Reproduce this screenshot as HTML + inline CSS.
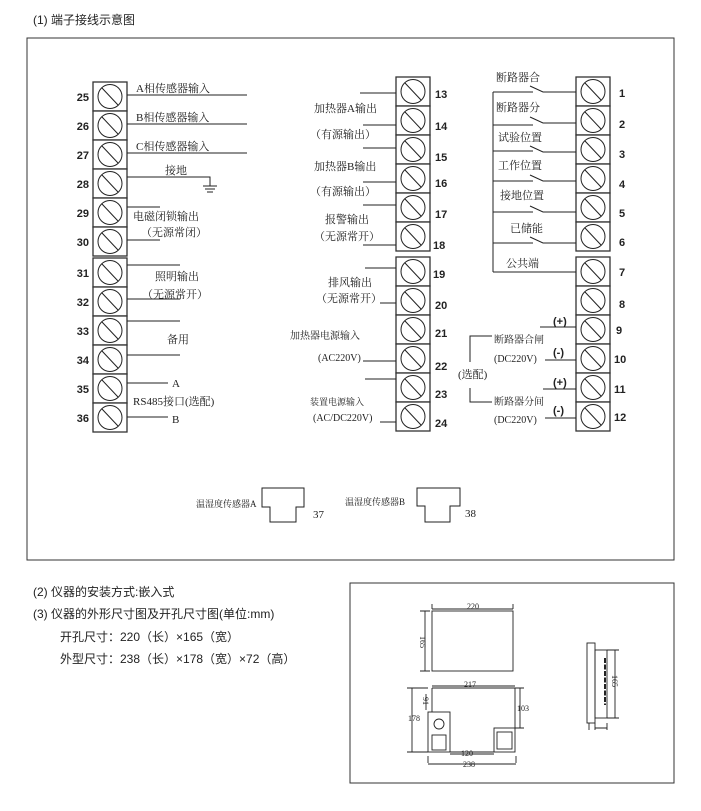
<!DOCTYPE html>
<html><head><meta charset="utf-8"><style>
body{margin:0;background:#fff;width:701px;height:811px;overflow:hidden}
svg{display:block}
text{font-family:"Liberation Serif","Noto Serif CJK SC",serif;fill:#222}
.s{font-family:"Liberation Sans","Noto Sans CJK SC",sans-serif}
.n{font-family:"Liberation Sans",sans-serif;font-weight:bold;font-size:11px}
</style></head><body>
<svg width="701" height="811" viewBox="0 0 701 811" xmlns="http://www.w3.org/2000/svg">
<defs>
<g id="t"><rect x="0" y="0" width="34" height="29" fill="#fff" stroke="#333" stroke-width="1.3"/><circle cx="17" cy="14.5" r="12" fill="none" stroke="#222" stroke-width="1"/><line x1="9" y1="6" x2="25" y2="23" stroke="#222" stroke-width="1"/></g>
</defs>
<text x="33" y="24" font-size="12" class="s">(1) 端子接线示意图</text>
<rect x="27" y="38" width="647" height="522" fill="none" stroke="#333" stroke-width="1"/>

<g>
<use href="#t" x="93" y="82"/><use href="#t" x="93" y="111"/><use href="#t" x="93" y="140"/><use href="#t" x="93" y="169"/><use href="#t" x="93" y="198"/><use href="#t" x="93" y="227"/>
<use href="#t" x="93" y="258"/><use href="#t" x="93" y="287"/><use href="#t" x="93" y="316"/><use href="#t" x="93" y="345"/><use href="#t" x="93" y="374"/><use href="#t" x="93" y="403"/>
</g>
<g text-anchor="end">
<text x="89" y="101" class="n">25</text><text x="89" y="130" class="n">26</text><text x="89" y="159" class="n">27</text><text x="89" y="188" class="n">28</text><text x="89" y="217" class="n">29</text><text x="89" y="246" class="n">30</text>
<text x="89" y="277" class="n">31</text><text x="89" y="306" class="n">32</text><text x="89" y="335" class="n">33</text><text x="89" y="364" class="n">34</text><text x="89" y="393" class="n">35</text><text x="89" y="422" class="n">36</text>
</g>
<g stroke="#222" stroke-width="1" fill="none">
<path d="M127 95H247M127 124H247M127 153H247"/>
<path d="M127 177H210V186M203 186H217M205 189H215M207 192H213"/>
<path d="M127 207H160M127 240H160M127 265H180M127 299H180M127 321H180M127 355H180M127 383H168M127 417H168"/>
</g>
<g font-size="11">
<text x="136" y="92">A相传感器输入</text>
<text x="136" y="121">B相传感器输入</text>
<text x="136" y="150">C相传感器输入</text>
<text x="165" y="174">接地</text>
<text x="133" y="220">电磁闭锁输出</text>
<text x="141" y="236">（无源常闭）</text>
<text x="155" y="280">照明输出</text>
<text x="142" y="298">（无源常开）</text>
<text x="167" y="343">备用</text>
<text x="172" y="387">A</text>
<text x="133" y="405">RS485接口(选配)</text>
<text x="172" y="423">B</text>
</g>

<g>
<use href="#t" x="396" y="77"/><use href="#t" x="396" y="106"/><use href="#t" x="396" y="135"/><use href="#t" x="396" y="164"/><use href="#t" x="396" y="193"/><use href="#t" x="396" y="222"/>
<use href="#t" x="396" y="257"/><use href="#t" x="396" y="286"/><use href="#t" x="396" y="315"/><use href="#t" x="396" y="344"/><use href="#t" x="396" y="373"/><use href="#t" x="396" y="402"/>
</g>
<g>
<text x="435" y="98" class="n">13</text><text x="435" y="130" class="n">14</text><text x="435" y="161" class="n">15</text><text x="435" y="187" class="n">16</text><text x="435" y="218" class="n">17</text><text x="433" y="249" class="n">18</text>
<text x="433" y="278" class="n">19</text><text x="435" y="309" class="n">20</text><text x="435" y="337" class="n">21</text><text x="435" y="370" class="n">22</text><text x="435" y="398" class="n">23</text><text x="435" y="427" class="n">24</text>
</g>
<g stroke="#222" stroke-width="1" fill="none">
<path d="M360 93H396M363 125H396M363 148H396M363 182H396M363 205H396M363 245H396M365 268H396M380 303H396M363 361H396M365 379H396M380 422H396"/>
</g>
<g font-size="11">
<text x="314" y="112">加热器A输出</text>
<text x="310" y="138">（有源输出）</text>
<text x="314" y="170">加热器B输出</text>
<text x="310" y="195">（有源输出）</text>
<text x="325" y="223">报警输出</text>
<text x="314" y="240">（无源常开）</text>
<text x="328" y="286">排风输出</text>
<text x="316" y="302">（无源常开）</text>
<text x="290" y="339" font-size="10">加热器电源输入</text>
<text x="318" y="361" font-size="10">(AC220V)</text>
<text x="310" y="405" font-size="9">装置电源输入</text>
<text x="313" y="421" font-size="10">(AC/DC220V)</text>
</g>

<g>
<use href="#t" x="576" y="77"/><use href="#t" x="576" y="106"/><use href="#t" x="576" y="135"/><use href="#t" x="576" y="164"/><use href="#t" x="576" y="193"/><use href="#t" x="576" y="222"/>
<use href="#t" x="576" y="257"/><use href="#t" x="576" y="286"/><use href="#t" x="576" y="315"/><use href="#t" x="576" y="344"/><use href="#t" x="576" y="373"/><use href="#t" x="576" y="402"/>
</g>
<g>
<text x="619" y="97" class="n">1</text><text x="619" y="128" class="n">2</text><text x="619" y="158" class="n">3</text><text x="619" y="188" class="n">4</text><text x="619" y="217" class="n">5</text><text x="619" y="246" class="n">6</text>
<text x="619" y="276" class="n">7</text><text x="619" y="308" class="n">8</text><text x="616" y="334" class="n">9</text><text x="614" y="363" class="n">10</text><text x="614" y="393" class="n">11</text><text x="614" y="421" class="n">12</text>
</g>
<g stroke="#222" stroke-width="1" fill="none">
<path d="M493 92V272"/>
<path d="M493 92H533M530 86L543 92H576"/>
<path d="M493 125H533M530 117L543 123H576"/>
<path d="M493 151H533M530 146L543 152H576"/>
<path d="M493 181H533M530 175L543 181H576"/>
<path d="M493 212H533M530 206L543 212H576"/>
<path d="M493 243H533M530 237L543 243H576"/>
<path d="M493 272H576"/>
<path d="M540 327H576M545 360H576M543 389H576M545 418H576"/>
<path d="M492 336H470V362M470 388V402H492"/>
</g>
<g font-size="11">
<text x="496" y="81">断路器合</text>
<text x="496" y="111">断路器分</text>
<text x="498" y="141">试验位置</text>
<text x="498" y="169">工作位置</text>
<text x="500" y="199">接地位置</text>
<text x="510" y="232">已储能</text>
<text x="506" y="267">公共端</text>
<text x="553" y="325" class="n">(+)</text>
<text x="553" y="356" class="n">(-)</text>
<text x="553" y="386" class="n">(+)</text>
<text x="553" y="414" class="n">(-)</text>
<text x="494" y="343" font-size="10">断路器合闸</text>
<text x="494" y="362" font-size="10">(DC220V)</text>
<text x="458" y="378">(选配)</text>
<text x="494" y="405" font-size="10">断路器分间</text>
<text x="494" y="423" font-size="10">(DC220V)</text>
</g>

<g stroke="#222" stroke-width="1" fill="none">
<path d="M262 488H304V507H296V522H270V507H262Z"/>
<path d="M417 488H460V506H450V522H425V506H417Z"/>
</g>
<text x="196" y="507" font-size="9">温湿度传感器A</text>
<text x="313" y="518" font-size="11">37</text>
<text x="345" y="505" font-size="9">温湿度传感器B</text>
<text x="465" y="517" font-size="11">38</text>

<g font-size="12">
<text x="33" y="596" class="s">(2) 仪器的安装方式:嵌入式</text>
<text x="33" y="618" class="s">(3) 仪器的外形尺寸图及开孔尺寸图(单位:mm)</text>
<text x="60" y="641" class="s">开孔尺寸：220（长）×165（宽）</text>
<text x="60" y="663" class="s">外型尺寸：238（长）×178（宽）×72（高）</text>
</g>

<rect x="350" y="583" width="324" height="200" fill="none" stroke="#333" stroke-width="1"/>
<g stroke="#222" stroke-width="0.9" fill="none">
<rect x="432" y="611" width="81" height="60"/>
<path d="M432 609V604M513 609V604M432 609H513"/>
<path d="M425 611V671M420 611H430M420 671H430"/>
<path d="M432 688H515V728M432 688V712"/>
<rect x="428" y="712" width="22" height="40"/>
<circle cx="439" cy="724" r="5"/>
<rect x="432" y="735" width="14" height="15"/>
<path d="M450 752H494"/>
<rect x="494" y="728" width="21" height="24"/>
<rect x="497" y="732" width="15" height="17"/>
<path d="M412 688V752M407 688H428M407 752H428"/>
<path d="M520 688V728M515 728H524M515 688H524"/>
<path d="M428 763V756M516 763V756M428 764H516"/>
<path d="M432 686H515M450 754H494"/>
<path d="M426 694V710"/>
<rect x="587" y="643" width="8" height="80"/>
<rect x="595" y="650" width="12" height="68"/>
<path d="M605 658V705" stroke-width="2" stroke-dasharray="5 1.5"/>
<path d="M615 650V718M607 650H619M607 718H619M589 723V730M595 723V730M607 723V730M595 728H607"/>
</g>
<g font-size="8" fill="#444">
<text x="467" y="609">220</text>
<text x="464" y="687">217</text>
<text x="461" y="756">120</text>
<text x="463" y="767">238</text>
<text x="408" y="721">178</text>
<text x="517" y="711">103</text>
<text x="0" y="0" transform="translate(420,636) rotate(90)">165</text>
<text x="0" y="0" transform="translate(612,675) rotate(90)">165</text>
<text x="0" y="0" transform="translate(423,697) rotate(90)">91</text>
</g>
</svg>
</body></html>
